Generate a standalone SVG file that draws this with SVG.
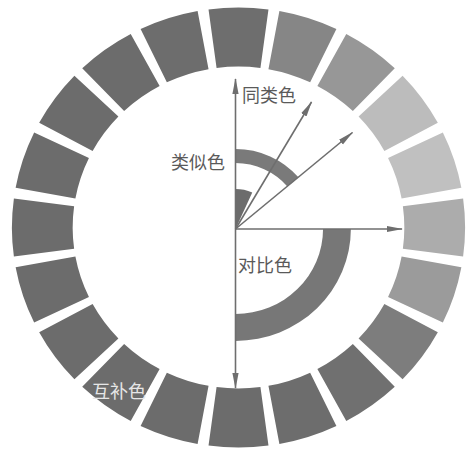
<svg xmlns="http://www.w3.org/2000/svg" xmlns:xlink="http://www.w3.org/1999/xlink" width="467" height="454" viewBox="0 0 467 454">
  <style>
    .lbl { font-family: "Noto Sans CJK SC", "Noto Sans", sans-serif; font-size: 18px; fill: #5a5a5a; }
    .inv { fill: #e6e6e6; }
    .arrow { stroke: #6e6e6e; stroke-width: 1.6; fill: none; marker-end: url(#ah); }
  </style>
  <defs>
    <path id="seg" d="M -29.10 -218.07 A 220 220 0 0 1 29.10 -218.07 L 21.29 -159.59 A 161 161 0 0 0 -21.29 -159.59 Z"/>
    <marker id="ah" viewBox="0 0 16 8" refX="15" refY="4" markerWidth="16" markerHeight="8" orient="auto" markerUnits="userSpaceOnUse">
      <path d="M0 0.9 L16 4 L0 7.1 Z" fill="#6e6e6e"/>
    </marker>
  </defs>
  <rect width="467" height="454" fill="#ffffff"/>

  <g id="color-wheel" transform="translate(238.5,227.5) scale(1.03,1)">
    <use xlink:href="#seg" fill="#6e6e6e"/>
    <use xlink:href="#seg" transform="rotate(18)" fill="#868686"/>
    <use xlink:href="#seg" transform="rotate(36)" fill="#979797"/>
    <use xlink:href="#seg" transform="rotate(54)" fill="#bcbcbc"/>
    <use xlink:href="#seg" transform="rotate(72)" fill="#c0c0c0"/>
    <use xlink:href="#seg" transform="rotate(90)" fill="#acacac"/>
    <use xlink:href="#seg" transform="rotate(108)" fill="#9b9b9b"/>
    <use xlink:href="#seg" transform="rotate(126)" fill="#7d7d7d"/>
    <use xlink:href="#seg" transform="rotate(144)" fill="#707070"/>
    <use xlink:href="#seg" transform="rotate(162)" fill="#6d6d6d"/>
    <use xlink:href="#seg" transform="rotate(180)" fill="#6c6c6c"/>
    <use xlink:href="#seg" transform="rotate(198)" fill="#6c6c6c"/>
    <use xlink:href="#seg" transform="rotate(216)" fill="#6c6c6c"/>
    <use xlink:href="#seg" transform="rotate(234)" fill="#6c6c6c"/>
    <use xlink:href="#seg" transform="rotate(252)" fill="#6c6c6c"/>
    <use xlink:href="#seg" transform="rotate(270)" fill="#6c6c6c"/>
    <use xlink:href="#seg" transform="rotate(288)" fill="#6c6c6c"/>
    <use xlink:href="#seg" transform="rotate(306)" fill="#6c6c6c"/>
    <use xlink:href="#seg" transform="rotate(324)" fill="#6c6c6c"/>
    <use xlink:href="#seg" transform="rotate(342)" fill="#6d6d6d"/>
  </g>

  <g id="bands" transform="translate(235.5,229) scale(1.03,1)">
    <g id="band-contrast"><path d="M 112 0 A 112 112 0 0 1 0 112 L 0 85 A 85 85 0 0 0 85 0 Z" fill="#777777"/></g>
    <g id="band-analogous"><path d="M 0 -80 A 80 80 0 0 1 61.10 -51.64 L 50.41 -42.60 A 66 66 0 0 0 0 -66 Z" fill="#7a7a7a"/></g>
    <g id="wedge-same"><path d="M 0 0 L 0 -40 A 40 40 0 0 1 16.27 -36.54 Z" fill="#6c6c6c"/></g>
  </g>

  <g id="connectors">
    <line class="arrow" x1="235.5" y1="229" x2="235.5" y2="79"/>
    <line class="arrow" x1="235.5" y1="229" x2="235.5" y2="388"/>
    <line class="arrow" x1="235.5" y1="229" x2="402" y2="229"/>
    <line class="arrow" x1="235.5" y1="229" x2="311.5" y2="102"/>
    <line class="arrow" x1="235.5" y1="229" x2="352.5" y2="132.5"/>
  </g>

  <g id="label-same"><text class="lbl" x="242" y="102">同类色</text></g>
  <g id="label-analogous"><text class="lbl" x="171" y="169">类似色</text></g>
  <g id="label-contrast"><text class="lbl" x="238" y="272">对比色</text></g>
  <g id="label-complementary"><text class="lbl inv" x="92" y="398">互补色</text></g>
</svg>
